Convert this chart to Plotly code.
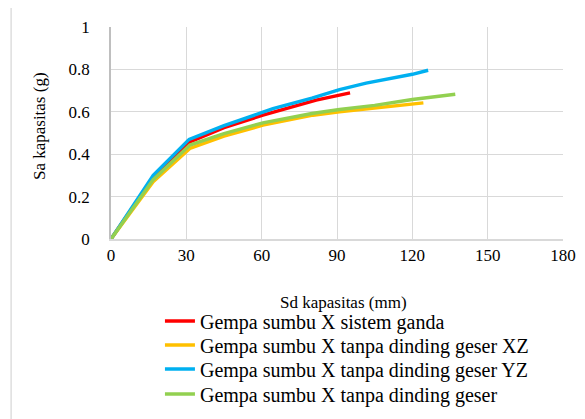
import plotly.graph_objects as go

names = [
    "Gempa sumbu X sistem ganda",
    "Gempa sumbu X tanpa dinding geser XZ",
    "Gempa sumbu X tanpa dinding geser YZ",
    "Gempa sumbu X tanpa dinding geser",
]
colors = ["#FF0000", "#FFC000", "#00B0F0", "#92D050"]

red_x = [0, 16.8, 31.4, 45, 60.5, 81.7, 95.2]
red_y = [0, 0.29, 0.458, 0.525, 0.584, 0.655, 0.689]

yel_x = [0, 16.8, 31.4, 45, 60.5, 80.4, 91, 110, 124.4]
yel_y = [0, 0.27, 0.427, 0.485, 0.537, 0.584, 0.600, 0.622, 0.642]

blu_x = [0, 16.8, 31.1, 45, 60.5, 64.5, 80, 91, 101.6, 120, 126.3]
blu_y = [0, 0.30, 0.47, 0.535, 0.598, 0.615, 0.665, 0.705, 0.735, 0.777, 0.796]

grn_x = [0, 16.8, 31.4, 45, 60.5, 80, 91, 105, 120, 137.1]
grn_y = [0, 0.28, 0.443, 0.497, 0.548, 0.592, 0.611, 0.630, 0.658, 0.683]

xs = [red_x, yel_x, blu_x, grn_x]
ys = [red_y, yel_y, blu_y, grn_y]

x_ticks = [0, 30, 60, 90, 120, 150, 180]
y_ticks = [0, 0.2, 0.4, 0.6, 0.8, 1]
y_labels = ["0", "0.2", "0.4", "0.6", "0.8", "1"]

SERIF = "Liberation Serif"
W, H = 577, 411          # page body has an 8px margin
L, R, T, B = 103, 21.5, 19, 180
pw = W - L - R
ph = H - T - B

def px(x):
    return (x - L) / pw

def py(y):
    return (H - B - y) / ph

legend_ids = ["legend", "legend2", "legend3", "legend4"]
legend_centers = [313, 337, 361, 386]   # pixel rows of the legend entries

fig = go.Figure()
for n, c, x, y, lg in zip(names, colors, xs, ys, legend_ids):
    fig.add_trace(go.Scatter(x=x, y=y, mode="lines", name=n, legend=lg,
                             line=dict(color=c, width=3.4)))

grid = "#D9D9D9"
axis_line = "#BFBFBF"
legend_layout = {}
for lg, cy in zip(legend_ids, legend_centers):
    legend_layout[lg] = dict(x=px(152), y=py(cy), xanchor="left", yanchor="middle",
                             font=dict(family=SERIF, size=20, color="#000000"),
                             bgcolor="rgba(0,0,0,0)", borderwidth=0)

fig.update_layout(
    template="none",
    width=W, height=H,
    margin=dict(l=L, r=R, t=T, b=B, pad=0, autoexpand=False),
    paper_bgcolor="white", plot_bgcolor="white",
    showlegend=True,
    xaxis=dict(range=[0, 180], tickvals=x_ticks, ticktext=[str(v) for v in x_ticks],
               showgrid=True, gridcolor=grid, gridwidth=1.3,
               showline=True, linecolor=grid, linewidth=1.5,
               zeroline=False, ticks="", ticklen=0, automargin=False,
               tickfont=dict(family=SERIF, size=17, color="#000000")),
    yaxis=dict(range=[0, 1], tickvals=y_ticks, ticktext=y_labels,
               showgrid=True, gridcolor=grid, gridwidth=1.3,
               showline=True, linecolor=axis_line, linewidth=1.5,
               zeroline=False, ticks="", ticklen=0, automargin=False,
               ticklabelstandoff=16,
               tickfont=dict(family=SERIF, size=17, color="#000000")),
    annotations=[
        dict(text="Sd kapasitas (mm)", xref="paper", yref="paper", x=px(336), y=py(294),
             xanchor="center", yanchor="middle", showarrow=False,
             font=dict(family=SERIF, size=17, color="#000000")),
        dict(text="Sa kapasitas (g)", xref="paper", yref="paper", x=px(32), y=py(118),
             xanchor="center", yanchor="middle", showarrow=False, textangle=-90,
             font=dict(family=SERIF, size=17, color="#000000")),
    ],
    shapes=[
        dict(type="line", xref="paper", yref="paper", x0=px(3), x1=px(3), y0=py(H + 1), y1=py(0),
             line=dict(color=grid, width=1.3)),
    ],
    **legend_layout,
)

fig.write_html("out.html")
